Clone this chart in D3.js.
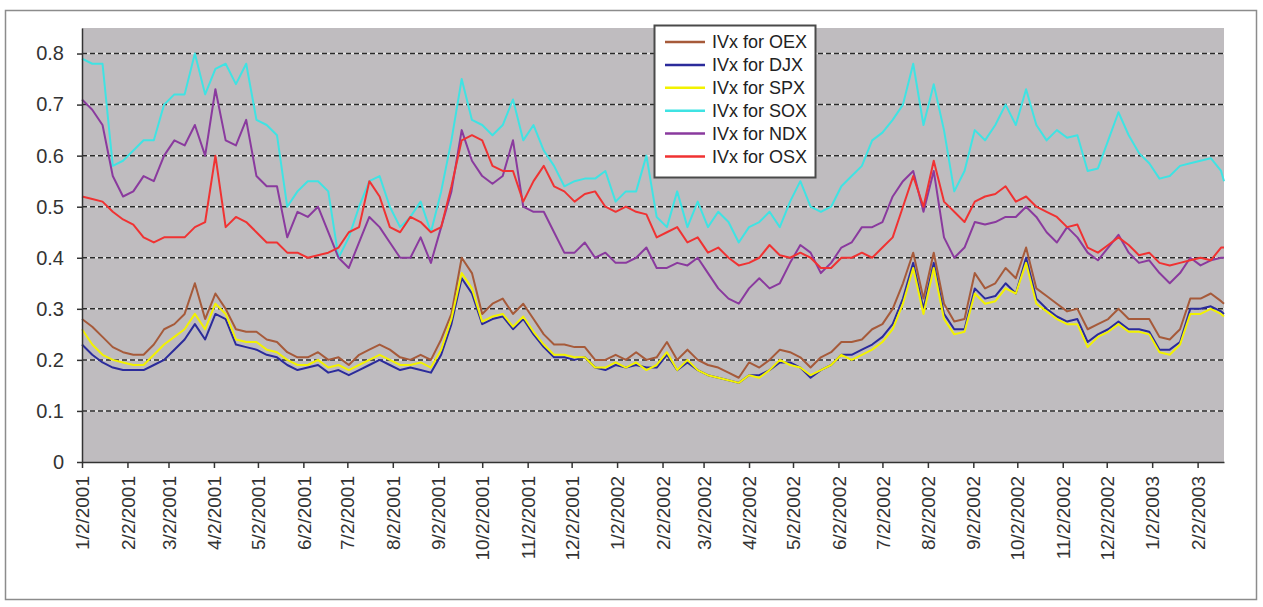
<!DOCTYPE html>
<html>
<head>
<meta charset="utf-8">
<script src="https://cdn.jsdelivr.net/npm/d3@7"></script>
<style>
  body { margin: 0; background: #fff; }
  text { font-family: "Liberation Sans", Arial, sans-serif; }
</style>
</head>
<body>
<svg width="1263" height="607"></svg>
<script>
// weekly samples
var dates = [
  "2001-01-02","2001-01-09","2001-01-16","2001-01-23","2001-01-30",
  "2001-02-06","2001-02-13","2001-02-20","2001-02-27",
  "2001-03-06","2001-03-13","2001-03-20","2001-03-27",
  "2001-04-03","2001-04-10","2001-04-17","2001-04-24",
  "2001-05-01","2001-05-08","2001-05-15","2001-05-22","2001-05-29",
  "2001-06-05","2001-06-12","2001-06-19","2001-06-26",
  "2001-07-03","2001-07-10","2001-07-17","2001-07-24","2001-07-31",
  "2001-08-07","2001-08-14","2001-08-21","2001-08-28",
  "2001-09-04","2001-09-11","2001-09-18","2001-09-25",
  "2001-10-02","2001-10-09","2001-10-16","2001-10-23","2001-10-30",
  "2001-11-06","2001-11-13","2001-11-20","2001-11-27",
  "2001-12-04","2001-12-11","2001-12-18","2001-12-25",
  "2002-01-01","2002-01-08","2002-01-15","2002-01-22","2002-01-29",
  "2002-02-05","2002-02-12","2002-02-19","2002-02-26",
  "2002-03-05","2002-03-12","2002-03-19","2002-03-26",
  "2002-04-02","2002-04-09","2002-04-16","2002-04-23","2002-04-30",
  "2002-05-07","2002-05-14","2002-05-21","2002-05-28",
  "2002-06-04","2002-06-11","2002-06-18","2002-06-25",
  "2002-07-02","2002-07-09","2002-07-16","2002-07-23","2002-07-30",
  "2002-08-06","2002-08-13","2002-08-20","2002-08-27",
  "2002-09-03","2002-09-10","2002-09-17","2002-09-24",
  "2002-10-01","2002-10-08","2002-10-15","2002-10-22","2002-10-29",
  "2002-11-05","2002-11-12","2002-11-19","2002-11-26",
  "2002-12-03","2002-12-10","2002-12-17","2002-12-24","2002-12-31",
  "2003-01-07","2003-01-14","2003-01-21","2003-01-28",
  "2003-02-04","2003-02-11","2003-02-18","2003-02-20"
];

var oex = [
  0.28,0.265,0.245,0.225,0.215,0.21,0.21,0.23,0.26,0.27,
  0.29,0.35,0.28,0.33,0.30,0.26,0.255,0.255,0.24,0.235,
  0.215,0.205,0.205,0.215,0.20,0.205,0.19,0.21,0.22,0.23,
  0.22,0.205,0.20,0.21,0.20,0.24,0.29,0.40,
  0.37,0.29,0.31,0.32,0.29,0.31,0.28,0.25,0.23,0.23,
  0.225,0.225,0.20,0.20,0.21,0.20,0.215,0.20,0.205,0.235,
  0.20,0.22,0.20,0.19,0.185,0.175,0.165,0.195,0.185,0.20,
  0.22,0.215,0.205,0.185,0.205,0.215,0.235,
  0.235,0.24,0.26,0.27,0.30,0.35,0.41,0.32,0.41,0.31,
  0.275,0.28,0.37,0.34,0.35,0.38,0.36,0.42,0.34,0.325,
  0.31,0.295,0.30,0.26,0.27,0.28,0.30,0.28,0.28,0.28,
  0.245,0.24,0.26,0.32,0.32,0.33,0.315,0.31
];

var djx = [
  0.23,0.21,0.195,0.185,0.18,0.18,0.18,0.19,0.20,0.22,
  0.24,0.27,0.24,0.29,0.28,0.23,0.225,0.22,0.21,0.205,
  0.19,0.18,0.185,0.19,0.175,0.18,0.17,0.18,0.19,0.20,
  0.19,0.18,0.185,0.18,0.175,0.21,0.27,0.36,
  0.33,0.27,0.28,0.285,0.26,0.28,0.25,0.225,0.205,0.205,
  0.20,0.205,0.185,0.18,0.19,0.185,0.19,0.185,0.185,0.21,
  0.18,0.195,0.18,0.17,0.165,0.16,0.155,0.17,0.17,0.18,
  0.195,0.195,0.185,0.165,0.18,0.19,0.21,
  0.21,0.22,0.23,0.245,0.27,0.32,0.39,0.30,0.39,0.29,
  0.26,0.26,0.34,0.32,0.325,0.35,0.33,0.40,0.32,0.30,
  0.285,0.275,0.28,0.235,0.25,0.26,0.275,0.26,0.26,0.255,
  0.22,0.22,0.235,0.30,0.30,0.305,0.295,0.29
];

var spx = [
  0.26,0.23,0.21,0.20,0.195,0.19,0.19,0.21,0.23,0.245,
  0.26,0.29,0.26,0.31,0.29,0.24,0.235,0.235,0.22,0.215,
  0.20,0.19,0.19,0.20,0.185,0.19,0.18,0.19,0.20,0.21,
  0.20,0.19,0.19,0.195,0.185,0.22,0.28,0.37,
  0.34,0.275,0.285,0.29,0.265,0.285,0.255,0.23,0.21,0.21,
  0.205,0.205,0.185,0.185,0.195,0.185,0.195,0.18,0.19,0.215,
  0.18,0.20,0.18,0.17,0.165,0.16,0.155,0.17,0.165,0.18,
  0.20,0.19,0.185,0.17,0.18,0.19,0.21,
  0.20,0.21,0.22,0.235,0.26,0.31,0.38,0.29,0.38,0.28,
  0.25,0.255,0.33,0.31,0.315,0.34,0.33,0.39,0.31,0.295,
  0.28,0.27,0.27,0.225,0.245,0.255,0.27,0.255,0.255,0.25,
  0.215,0.21,0.23,0.29,0.29,0.30,0.29,0.285
];

var sox = [
  0.79,0.78,0.78,0.58,0.59,0.61,0.63,0.63,0.70,0.72,
  0.72,0.80,0.72,0.77,0.78,0.74,0.78,0.67,0.66,0.64,
  0.50,0.53,0.55,0.55,0.53,0.40,0.44,0.50,0.55,0.56,
  0.50,0.46,0.48,0.51,0.45,0.53,0.63,0.75,
  0.67,0.66,0.64,0.66,0.71,0.63,0.66,0.61,0.58,0.54,
  0.55,0.555,0.555,0.57,0.51,0.53,0.53,0.60,0.48,0.46,
  0.53,0.46,0.51,0.46,0.49,0.47,0.43,0.46,0.47,0.49,
  0.46,0.51,0.55,0.50,0.49,0.50,0.54,
  0.56,0.58,0.63,0.645,0.67,0.70,0.78,0.66,0.74,0.65,
  0.53,0.57,0.65,0.63,0.66,0.70,0.66,0.73,0.66,0.63,
  0.65,0.635,0.64,0.57,0.575,0.63,0.685,0.64,0.605,0.585,
  0.555,0.56,0.58,0.585,0.59,0.595,0.57,0.55
];

var ndx = [
  0.71,0.69,0.66,0.56,0.52,0.53,0.56,0.55,0.60,0.63,
  0.62,0.66,0.60,0.73,0.63,0.62,0.67,0.56,0.54,0.54,
  0.44,0.49,0.48,0.50,0.45,0.40,0.38,0.43,0.48,0.46,
  0.43,0.40,0.40,0.44,0.39,0.46,0.53,0.65,
  0.59,0.56,0.545,0.56,0.63,0.50,0.49,0.49,0.45,0.41,
  0.41,0.43,0.40,0.41,0.39,0.39,0.40,0.42,0.38,0.38,
  0.39,0.385,0.40,0.37,0.34,0.32,0.31,0.34,0.36,0.34,
  0.35,0.39,0.425,0.41,0.37,0.39,0.42,
  0.43,0.46,0.46,0.47,0.52,0.55,0.57,0.49,0.57,0.44,
  0.40,0.42,0.47,0.465,0.47,0.48,0.48,0.50,0.48,0.45,
  0.43,0.46,0.44,0.41,0.395,0.42,0.445,0.41,0.39,0.395,
  0.37,0.35,0.37,0.40,0.385,0.395,0.40,0.40
];

var osx = [
  0.52,0.515,0.51,0.49,0.475,0.465,0.44,0.43,0.44,0.44,
  0.44,0.46,0.47,0.60,0.46,0.48,0.47,0.45,0.43,0.43,
  0.41,0.41,0.40,0.405,0.41,0.42,0.45,0.46,0.55,0.52,
  0.46,0.45,0.48,0.47,0.45,0.46,0.54,0.63,
  0.64,0.63,0.58,0.57,0.57,0.51,0.55,0.58,0.54,0.53,
  0.51,0.525,0.53,0.50,0.49,0.50,0.49,0.485,0.44,0.45,
  0.46,0.43,0.44,0.41,0.42,0.40,0.385,0.39,0.40,0.425,
  0.405,0.40,0.41,0.40,0.38,0.38,0.40,
  0.40,0.41,0.40,0.42,0.44,0.50,0.56,0.50,0.59,0.51,
  0.49,0.47,0.51,0.52,0.525,0.54,0.51,0.52,0.50,0.49,
  0.48,0.46,0.465,0.42,0.41,0.425,0.44,0.425,0.405,0.41,
  0.39,0.385,0.39,0.395,0.40,0.395,0.42,0.42
];

var seriesNames = ["IVx for OEX", "IVx for DJX", "IVx for SPX", "IVx for SOX", "IVx for NDX", "IVx for OSX"];
var seriesColors = ["#a65a3a", "#2b2b9b", "#f2f200", "#3fe3e3", "#8a3a9e", "#f03232"];
var seriesValues = [oex, djx, spx, sox, ndx, osx];

var yTicks = [0, 0.1, 0.2, 0.3, 0.4, 0.5, 0.6, 0.7, 0.8];
var yLabels = ["0", "0.1", "0.2", "0.3", "0.4", "0.5", "0.6", "0.7", "0.8"];
var xTickLabels = [
  "1/2/2001","2/2/2001","3/2/2001","4/2/2001","5/2/2001","6/2/2001","7/2/2001",
  "8/2/2001","9/2/2001","10/2/2001","11/2/2001","12/2/2001",
  "1/2/2002","2/2/2002","3/2/2002","4/2/2002","5/2/2002","6/2/2002","7/2/2002",
  "8/2/2002","9/2/2002","10/2/2002","11/2/2002","12/2/2002",
  "1/2/2003","2/2/2003"
];

var svg = d3.select("svg");
var plot = { left: 82, top: 28, right: 1224, bottom: 462 };
var width = plot.right - plot.left;
var height = plot.bottom - plot.top;

var parseDate = d3.timeParse("%Y-%m-%d");
var parseTick = d3.timeParse("%m/%d/%Y");

var x = d3.scaleTime()
    .domain([parseDate(dates[0]), parseDate(dates[dates.length - 1])])
    .range([0, width]);
var y = d3.scaleLinear().domain([0, 0.85]).range([height, 0]);

// chart area frame
svg.append("rect")
    .attr("x", 5.5).attr("y", 10.5)
    .attr("width", 1251).attr("height", 589)
    .attr("fill", "#fff")
    .attr("stroke", "#8c8c8c")
    .attr("stroke-width", 1.5);

var focus = svg.append("g")
    .attr("transform", "translate(" + plot.left + "," + plot.top + ")");

focus.append("rect")
    .attr("width", width)
    .attr("height", height)
    .attr("fill", "#bfbcbf");

// dotted gridlines: light underlay then dark dashes
var gridVals = yTicks.filter(function(d) { return d > 0; });
focus.selectAll(".grid-under")
    .data(gridVals).enter().append("line")
    .attr("x1", 0).attr("x2", width)
    .attr("y1", function(d) { return y(d); })
    .attr("y2", function(d) { return y(d); })
    .attr("stroke", "#e6e6e6")
    .attr("stroke-width", 1.5);
focus.selectAll(".grid")
    .data(gridVals).enter().append("line")
    .attr("x1", 0).attr("x2", width)
    .attr("y1", function(d) { return y(d); })
    .attr("y2", function(d) { return y(d); })
    .attr("stroke", "#2a2a2a")
    .attr("stroke-width", 1.5)
    .attr("stroke-dasharray", "5,3");

var line = d3.line()
    .x(function(d) { return x(d.date); })
    .y(function(d) { return y(d.value); });

seriesValues.forEach(function(vals, k) {
  var pts = vals.map(function(v, i) { return { date: parseDate(dates[i]), value: v }; });
  focus.append("path")
      .datum(pts)
      .attr("fill", "none")
      .attr("stroke", seriesColors[k])
      .attr("stroke-width", 2)
      .attr("stroke-linejoin", "round")
      .attr("d", line);
});

// axes
var yAxis = focus.append("g")
    .call(d3.axisLeft(y).tickValues(yTicks).tickSize(5).tickSizeOuter(0).tickPadding(13)
      .tickFormat(function(d, i) { return yLabels[i]; }));
yAxis.select(".domain").attr("stroke", "#333").attr("stroke-width", 1.5);
yAxis.selectAll(".tick line").attr("stroke", "#333").attr("stroke-width", 1.5);
yAxis.selectAll("text").attr("font-size", "20px").attr("fill", "#333")
    .attr("font-family", "Liberation Sans, Arial, sans-serif");

var xAxis = focus.append("g")
    .attr("transform", "translate(0," + height + ")")
    .call(d3.axisBottom(x).tickValues(xTickLabels.map(parseTick)).tickSize(6).tickSizeOuter(0)
      .tickFormat(function(d, i) { return xTickLabels[i]; }));
xAxis.select(".domain").attr("stroke", "#333").attr("stroke-width", 1.5);
xAxis.selectAll(".tick line").attr("stroke", "#333").attr("stroke-width", 1.5);
xAxis.selectAll("text")
    .attr("font-size", "19px").attr("fill", "#333")
    .attr("font-family", "Liberation Sans, Arial, sans-serif")
    .attr("transform", "rotate(-90)")
    .attr("text-anchor", "end")
    .attr("x", -14)
    .attr("y", 0)
    .attr("dy", "0.35em");

// legend
var legend = svg.append("g").attr("transform", "translate(654,25)");
legend.append("rect")
    .attr("x", 0.5).attr("y", 0.5)
    .attr("width", 161).attr("height", 152)
    .attr("fill", "#fff")
    .attr("stroke", "#4a4a4a")
    .attr("stroke-width", 2);
var rows = legend.selectAll(".row")
    .data(seriesNames).enter().append("g")
    .attr("transform", function(d, i) { return "translate(0," + (17 + i * 22.9) + ")"; });
rows.append("line")
    .attr("x1", 11).attr("x2", 51)
    .attr("stroke", function(d, i) { return seriesColors[i]; })
    .attr("stroke-width", 2.5);
rows.append("text")
    .attr("x", 58)
    .attr("dy", "0.35em")
    .attr("font-size", "18px")
    .attr("fill", "#222")
    .text(function(d) { return d; });
</script>
</body>
</html>
